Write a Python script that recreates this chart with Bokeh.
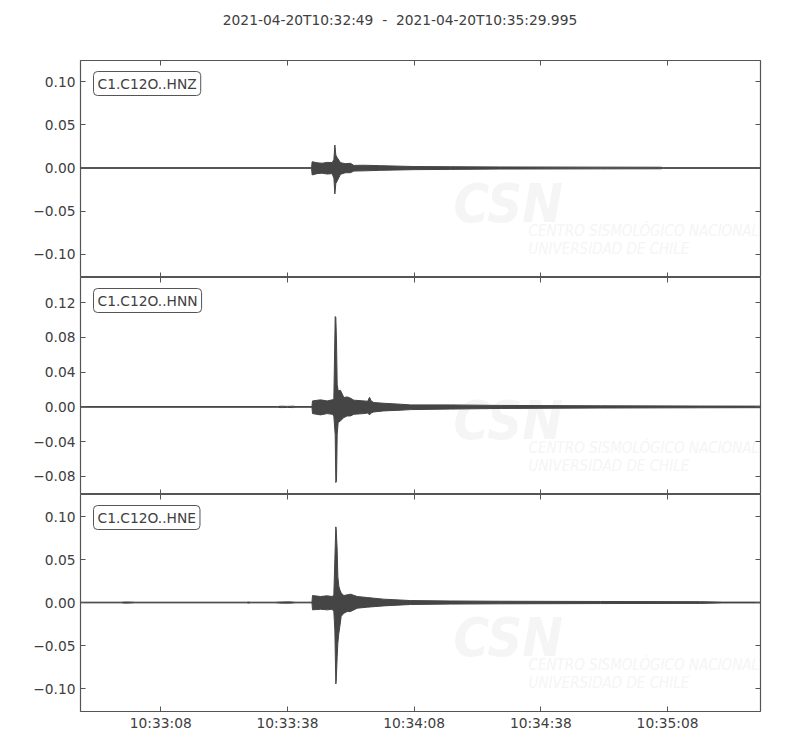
from bokeh.plotting import figure
from bokeh.models import (Range1d, LinearAxis, FixedTicker, Label, CustomJSTickFormatter,
                          CustomLabelingPolicy, Div)
from bokeh.layouts import column
from bokeh.embed import file_html
from bokeh.resources import INLINE

# seconds after 2021-04-20T10:32:49, envelope (max / min) of each trace
t_hnz = [0, 54.7, 54.85, 56.0, 57.2, 58.4, 59.6, 60.0, 60.22, 60.45, 60.77, 61.56, 62.7, 63.93,
         64.72, 67.0, 71.0, 78.9, 87.6, 99.4, 123.1, 137.3, 138.0, 161.0]
up_hnz = [0.0004, 0.0004, 0.0073, 0.0060, 0.0055, 0.0065, 0.0062, 0.0100, 0.0266, 0.0150, 0.0120,
          0.0062, 0.0050, 0.0054, 0.0030, 0.0032, 0.0027, 0.0017, 0.0015, 0.0012, 0.0010, 0.0009,
          0.0004, 0.0004]
lo_hnz = [-0.0004, -0.0004, -0.0080, -0.0065, -0.0060, -0.0070, -0.0065, -0.0120, -0.0300, -0.0180,
          -0.0150, -0.0073, -0.0055, -0.0054, -0.0035, -0.0033, -0.0027, -0.0019, -0.0016, -0.0012,
          -0.0010, -0.0009, -0.0004, -0.0004]

t_hnn = [0, 46.6, 47.5, 49.0, 50.4, 51.0, 54.8, 54.93, 56.82, 58.40, 59.59, 59.98, 60.30, 60.45,
         60.61, 60.77, 61.0, 61.56, 62.35, 63.14, 63.93, 64.72, 67.09, 68.0, 68.43, 68.82, 69.45,
         71.8, 75.76, 78.13, 87.6, 99.4, 123.1, 146.8, 161.0]
up_hnn = [0.0004, 0.0004, 0.0008, 0.0006, 0.0008, 0.0004, 0.0004, 0.0069, 0.0081, 0.0069, 0.0081,
          0.0088, 0.1040, 0.1030, 0.0760, 0.0260, 0.0185, 0.0190, 0.0108, 0.0115, 0.0100, 0.0077,
          0.0069, 0.0065, 0.0110, 0.0069, 0.0050, 0.0042, 0.0031, 0.0023, 0.0023, 0.0017, 0.0013,
          0.0010, 0.0009]
lo_hnn = [-0.0004, -0.0004, -0.0008, -0.0006, -0.0008, -0.0004, -0.0004, -0.0077, -0.0092, -0.0077,
          -0.0085, -0.0104, -0.0320, -0.0870, -0.0850, -0.0320, -0.0180, -0.0160, -0.0123, -0.0104,
          -0.0104, -0.0085, -0.0077, -0.0070, -0.0092, -0.0069, -0.0058, -0.0046, -0.0038, -0.0031,
          -0.0025, -0.0018, -0.0013, -0.0010, -0.0009]

t_hne = [0, 9.5, 10.5, 12.0, 13.0, 39.3, 39.8, 40.3, 46.0, 47.5, 49.5, 51.0, 54.8, 54.93, 56.82,
         58.40, 59.59, 59.98, 60.22, 60.45, 60.53, 60.77, 60.93, 61.16, 61.40, 61.72, 62.35, 63.14,
         63.93, 65.5, 67.9, 71.8, 78.13, 87.6, 99.4, 123.1, 146.8, 152.0, 161.0]
up_hne = [0.0004, 0.0004, 0.0007, 0.0006, 0.0004, 0.0004, 0.0007, 0.0004, 0.0004, 0.0007, 0.0008,
          0.0004, 0.0004, 0.0081, 0.0070, 0.0078, 0.0070, 0.0089, 0.0500, 0.0880, 0.0860, 0.0610,
          0.0300, 0.0190, 0.0150, 0.0110, 0.0081, 0.0089, 0.0097, 0.0070, 0.0058, 0.0039, 0.0023,
          0.0018, 0.0015, 0.0012, 0.0010, 0.0005, 0.0005]
lo_hne = [-0.0004, -0.0004, -0.0007, -0.0006, -0.0004, -0.0004, -0.0007, -0.0004, -0.0004, -0.0007,
          -0.0008, -0.0004, -0.0004, -0.0085, -0.0078, -0.0085, -0.0078, -0.0105, -0.0320, -0.0946,
          -0.0920, -0.0630, -0.0470, -0.0360, -0.0280, -0.0160, -0.0124, -0.0105, -0.0105, -0.0066,
          -0.0054, -0.0039, -0.0023, -0.0018, -0.0015, -0.0012, -0.0010, -0.0005, -0.0005]

channels = ["C1.C12O..HNZ", "C1.C12O..HNN", "C1.C12O..HNE"]
y_ranges = [(-0.1266, 0.1243), (-0.1008, 0.1489), (-0.1267, 0.1256)]
y_ticks = [[-0.10, -0.05, 0.0, 0.05, 0.10],
           [-0.08, -0.04, 0.0, 0.04, 0.08, 0.12],
           [-0.10, -0.05, 0.0, 0.05, 0.10]]
tick_secs = [19, 49, 79, 109, 139]
tick_labels = ["10:33:08", "10:33:38", "10:34:08", "10:34:38", "10:35:08"]
title = "2021-04-20T10:32:49\u00a0\u00a0-\u00a0\u00a02021-04-20T10:35:29.995"

FONT = "DejaVu Sans"
FSIZE = "13.8px"
TXT = "#404040"
SPINE = "#555555"
TRACE = "#454545"
MARK = "#f5f5f5"
FH = 217

x_range = Range1d(0, 160.995)
traces = [(t_hnz, up_hnz, lo_hnz), (t_hnn, up_hnn, lo_hnn), (t_hne, up_hne, lo_hne)]
fmt = CustomJSTickFormatter(code='return (tick < -1e-9 ? "\\u2212" : "") + Math.abs(tick).toFixed(2);')


def style_axis(ax, labels=True):
    ax.axis_line_color = None
    ax.major_tick_in = 5
    ax.major_tick_out = 0
    ax.major_tick_line_color = SPINE
    ax.minor_tick_line_color = None
    if labels:
        ax.major_label_text_font = FONT
        ax.major_label_text_font_size = FSIZE
        ax.major_label_text_color = TXT
        ax.major_label_standoff = 5
    else:
        # ticks only: no label is drawn
        ax.major_label_text_font_size = "0px"
        ax.major_label_standoff = 0
        ax.major_label_policy = CustomLabelingPolicy(code="return []")


header = Div(text=title, width=800, height=40, margin=0,
             styles={"text-align": "center", "font-family": FONT, "font-size": FSIZE,
                     "color": TXT, "line-height": "40px", "white-space": "pre"})

panels = [header]
for i, (name, (t, up, lo)) in enumerate(zip(channels, traces)):
    first, last = i == 0, i == 2
    p = figure(frame_width=680, frame_height=FH, x_range=x_range, y_range=Range1d(*y_ranges[i]),
               output_backend="svg", toolbar_location=None,
               x_axis_location=None, y_axis_location=None,
               min_border=0, min_border_left=80, min_border_right=32,
               min_border_top=20 if first else 0, min_border_bottom=30 if last else 0)
    p.grid.visible = False
    p.outline_line_color = SPINE
    p.outline_line_width = 1.2
    p.background_fill_color = "white"

    yt = FixedTicker(ticks=y_ticks[i])
    left = LinearAxis(ticker=yt, formatter=fmt)
    style_axis(left)
    p.add_layout(left, "left")
    right = LinearAxis(ticker=yt)
    style_axis(right, labels=False)
    p.add_layout(right, "right")

    xt = FixedTicker(ticks=tick_secs)
    top = LinearAxis(ticker=xt)
    style_axis(top, labels=False)
    p.add_layout(top, "above")
    bottom = LinearAxis(ticker=xt, major_label_overrides=dict(zip(tick_secs, tick_labels)))
    style_axis(bottom, labels=last)
    if last:
        bottom.major_label_standoff = 3
    p.add_layout(bottom, "below")

    # faint CSN watermark
    for txt, x, y, size, style in [("CSN", 373, 74, "54px", "bold italic"),
                                   ("CENTRO SISMOLÓGICO NACIONAL", 448, 47, "15px", "italic"),
                                   ("UNIVERSIDAD DE CHILE", 448, 29, "15px", "italic")]:
        p.add_layout(Label(x=x, y=y, x_units="screen", y_units="screen", text=txt,
                           text_font="DejaVu Sans Condensed", text_font_size=size,
                           text_font_style=style, text_color=MARK, text_baseline="alphabetic",
                           level="underlay"))

    p.varea(x=t, y1=lo, y2=up, fill_color=TRACE)
    p.line(t, up, line_color=TRACE, line_width=1)
    p.line(t, lo, line_color=TRACE, line_width=1)

    p.add_layout(Label(x=13, y=FH - 11, x_units="screen", y_units="screen", text=name,
                       text_font=FONT, text_font_size=FSIZE, text_color=TXT,
                       text_baseline="top", text_align="left", padding=4, border_radius=4,
                       border_line_color=SPINE, border_line_width=1,
                       background_fill_color="white"))
    panels.append(p)

layout = column(*panels, spacing=0)
open("out.html", "w").write(file_html(layout, INLINE))
